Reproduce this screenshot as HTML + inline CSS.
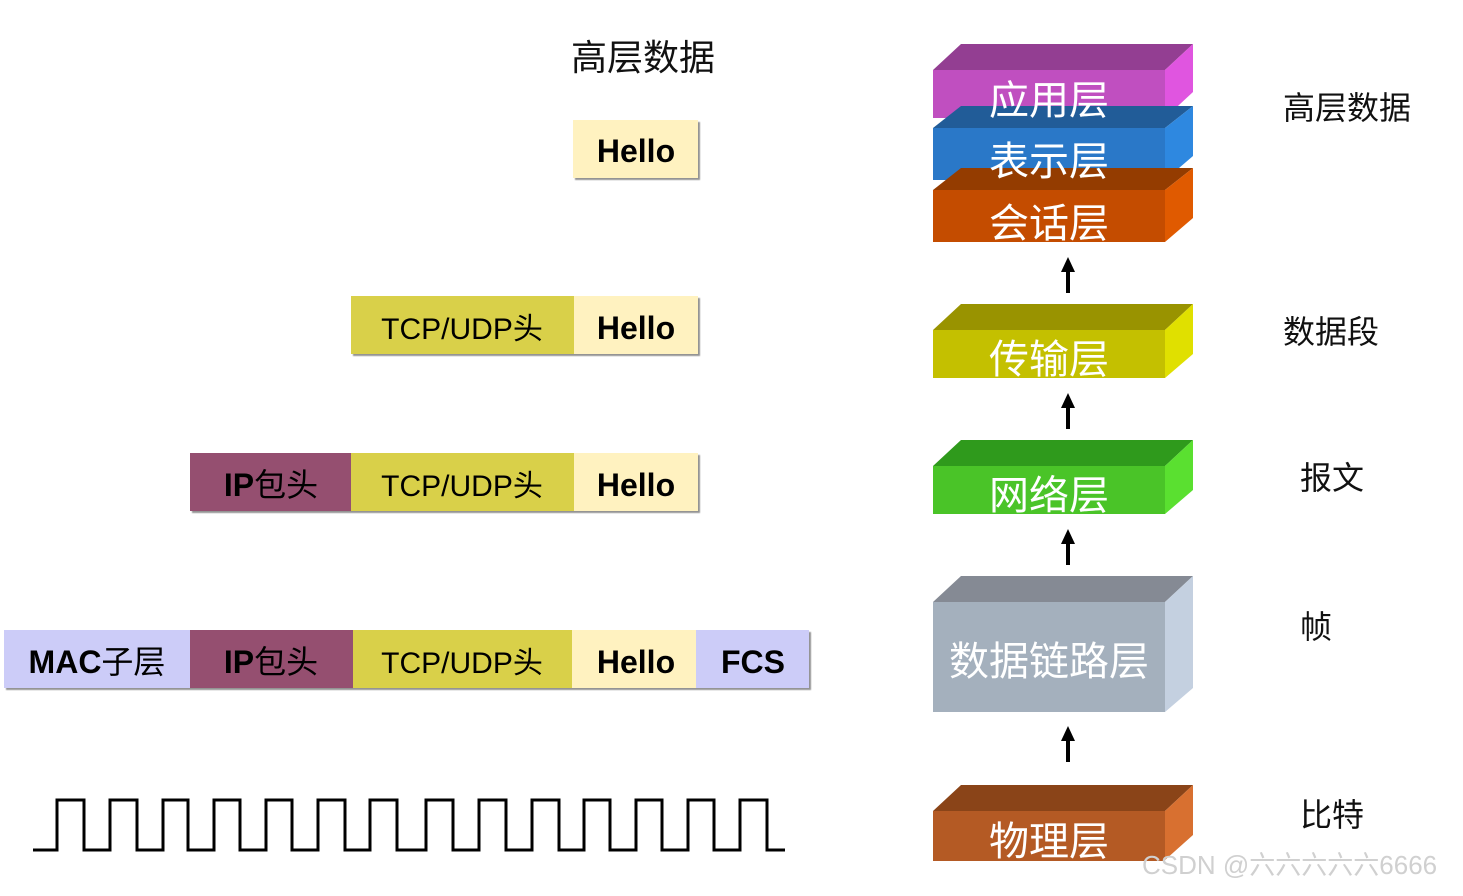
<!DOCTYPE html>
<html><head><meta charset="utf-8"><style>
html,body{margin:0;padding:0;background:#fff;}
svg text{font-family:"Liberation Sans","Noto Sans CJK SC",sans-serif;}
</style></head><body>
<svg width="1463" height="891" viewBox="0 0 1463 891" xmlns="http://www.w3.org/2000/svg">
<defs><filter id="sh"><feDropShadow dx="2" dy="2" stdDeviation="0.6" flood-color="#666" flood-opacity="0.7"/></filter></defs>
<text x="643" y="70" font-size="36" text-anchor="middle" fill="#111">高层数据</text>
<g filter="url(#sh)">
<rect x="573" y="120" width="125" height="58" fill="#fff2c0"/>
<rect x="351" y="296" width="223" height="58" fill="#d9d04a"/>
<rect x="574" y="296" width="124" height="58" fill="#fff2c0"/>
<rect x="190" y="453" width="161" height="58" fill="#955070"/>
<rect x="351" y="453" width="223" height="58" fill="#d9d04a"/>
<rect x="574" y="453" width="124" height="58" fill="#fff2c0"/>
<rect x="4" y="630" width="186" height="58" fill="#ccccf8"/>
<rect x="190" y="630" width="163" height="58" fill="#955070"/>
<rect x="353" y="630" width="219" height="58" fill="#d9d04a"/>
<rect x="572" y="630" width="124" height="58" fill="#fff2c0"/>
<rect x="696" y="630" width="113" height="58" fill="#ccccf8"/>
</g>
<g font-size="32" fill="#000" text-anchor="middle">
<text x="636" y="162" font-weight="bold">Hello</text>
<text x="462" y="339" font-size="30">TCP/UDP头</text>
<text x="636" y="339" font-weight="bold">Hello</text>
<text x="271" y="496" font-weight="bold">IP<tspan font-weight="normal">包头</tspan></text>
<text x="462" y="496" font-size="30">TCP/UDP头</text>
<text x="636" y="496" font-weight="bold">Hello</text>
<text x="97" y="673" font-weight="bold">MAC<tspan font-weight="normal">子层</tspan></text>
<text x="271" y="673" font-weight="bold">IP<tspan font-weight="normal">包头</tspan></text>
<text x="462" y="673" font-size="30">TCP/UDP头</text>
<text x="636" y="673" font-weight="bold">Hello</text>
<text x="753" y="673" font-weight="bold">FCS</text>
</g>
<path d="M33 850 H57 V800 H84 V850 H110 V800 H137 V850 H163 V800 H188 V850 H214 V800 H240 V850 H266 V800 H292 V850 H318 V800 H345 V850 H370 V800 H397 V850 H426 V800 H453 V850 H479 V800 H506 V850 H532 V800 H559 V850 H584 V800 H610 V850 H636 V800 H662 V850 H688 V800 H714 V850 H740 V800 H767 V850 H785" fill="none" stroke="#000" stroke-width="3"/>
<!-- 3D blocks -->
<g>
<!-- app -->
<polygon points="933,70 961,44 1193,44 1165,70" fill="#933e92"/>
<polygon points="1165,70 1193,44 1193,92 1165,118" fill="#e055e0"/>
<rect x="933" y="70" width="232" height="48" fill="#c04fc0"/>
<!-- pres -->
<polygon points="933,128 961,106 1193,106 1165,128" fill="#215c98"/>
<polygon points="1165,128 1193,106 1193,156 1165,180" fill="#2e88e0"/>
<rect x="933" y="128" width="232" height="52" fill="#2a78c8"/>
<!-- session -->
<polygon points="933,190 961,168 1193,168 1165,190" fill="#943c00"/>
<polygon points="1165,190 1193,168 1193,218 1165,242" fill="#e05a00"/>
<rect x="933" y="190" width="232" height="52" fill="#c44c00"/>
<!-- transport -->
<polygon points="933,330 961,304 1193,304 1165,330" fill="#999300"/>
<polygon points="1165,330 1193,304 1193,354 1165,378" fill="#e0e000"/>
<rect x="933" y="330" width="232" height="48" fill="#c4c000"/>
<!-- network -->
<polygon points="933,466 961,440 1193,440 1165,466" fill="#2f9a1c"/>
<polygon points="1165,466 1193,440 1193,490 1165,514" fill="#5ae030"/>
<rect x="933" y="466" width="232" height="48" fill="#4ac428"/>
<!-- data link -->
<polygon points="933,602 961,576 1193,576 1165,602" fill="#858a94"/>
<polygon points="1165,602 1193,576 1193,688 1165,712" fill="#c4d0e0"/>
<rect x="933" y="602" width="232" height="110" fill="#a4b0bd"/>
<!-- physical -->
<polygon points="933,811 961,785 1193,785 1165,811" fill="#8a4418"/>
<polygon points="1165,811 1193,785 1193,835 1165,860" fill="#d87030"/>
<rect x="933" y="811" width="232" height="50" fill="#b45a24"/>
</g>
<g font-size="40" fill="#fff" text-anchor="middle">
<text x="1049" y="114">应用层</text>
<text x="1049" y="175">表示层</text>
<text x="1049" y="237">会话层</text>
<text x="1049" y="373">传输层</text>
<text x="1049" y="509">网络层</text>
<text x="1049" y="675">数据链路层</text>
<text x="1049" y="855">物理层</text>
</g>
<g stroke="#000" stroke-width="4" fill="#000">
<line x1="1068" y1="268" x2="1068" y2="293"/><polygon points="1061,272 1068,257 1075,272" stroke="none"/>
<line x1="1068" y1="404" x2="1068" y2="429"/><polygon points="1061,408 1068,393 1075,408" stroke="none"/>
<line x1="1068" y1="540" x2="1068" y2="565"/><polygon points="1061,544 1068,529 1075,544" stroke="none"/>
<line x1="1068" y1="737" x2="1068" y2="762"/><polygon points="1061,741 1068,726 1075,741" stroke="none"/>
</g>
<g font-size="32" fill="#111">
<text x="1283" y="119">高层数据</text>
<text x="1283" y="343">数据段</text>
<text x="1300" y="489">报文</text>
<text x="1300" y="638">帧</text>
<text x="1300" y="826">比特</text>
</g>
<text x="1142" y="874" font-size="26" fill="#d0d0d0">CSDN @六六六六六6666</text>
</svg>
</body></html>
